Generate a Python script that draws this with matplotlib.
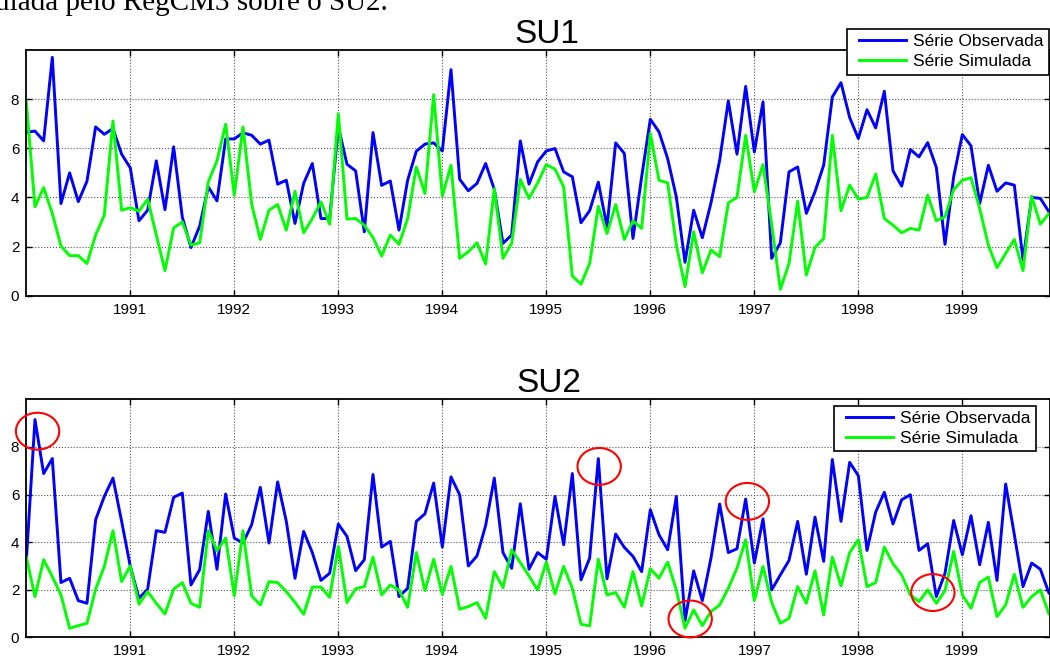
import matplotlib
matplotlib.use("Agg")
import matplotlib.pyplot as plt
from matplotlib.patches import Ellipse
from matplotlib.legend_handler import HandlerLine2D
import numpy as np

plt.rcParams['font.family'] = ['Liberation Sans', 'DejaVu Sans']

year_labels = ['1991', '1992', '1993', '1994', '1995', '1996', '1997', '1998', '1999']
series_labels = ['Série Observada', 'Série Simulada']

su1_obs = [6.65, 6.7, 6.3, 9.7, 3.75, 5.0, 3.83, 4.66, 6.87, 6.57, 6.8, 5.76,
           5.2, 3.05, 3.48, 5.49, 3.5, 6.06, 3.2, 1.96, 2.83, 4.43, 3.86, 6.38,
           6.38, 6.63, 6.53, 6.17, 6.33, 4.54, 4.7, 2.94, 4.57, 5.38, 3.14, 3.14,
           6.87, 5.35, 5.08, 2.6, 6.64, 4.49, 4.67, 2.67, 4.7, 5.88, 6.17, 6.22,
           5.89, 9.2, 4.74, 4.27, 4.57, 5.38, 4.32, 2.13, 2.47, 6.3, 4.54, 5.45,
           5.89, 5.99, 5.04, 4.84, 2.97, 3.46, 4.62, 2.8, 6.22, 5.79, 2.33, 4.84,
           7.18, 6.67, 5.58, 4.02, 1.36, 3.48, 2.36, 3.78, 5.51, 7.93, 5.76, 8.52,
           5.85, 7.89, 1.52, 2.15, 5.04, 5.24, 3.35, 4.23, 5.31, 8.09, 8.67, 7.25,
           6.4, 7.57, 6.83, 8.32, 5.08, 4.46, 5.95, 5.65, 6.23, 5.22, 2.09, 4.84,
           6.56, 6.1, 3.75, 5.31, 4.25, 4.59, 4.5, 1.45, 4.0, 3.96, 3.41, 3.3]

su1_sim = [7.89, 3.62, 4.4, 3.35, 2.02, 1.63, 1.63, 1.31, 2.47, 3.28, 7.11, 3.48,
           3.58, 3.44, 3.93, 2.47, 1.02, 2.76, 3.0, 2.06, 2.15, 4.63, 5.49, 6.98,
           4.09, 6.87, 3.73, 2.29, 3.48, 3.71, 2.67, 4.25, 2.56, 3.14, 3.82, 2.91,
           7.41, 3.12, 3.14, 2.87, 2.37, 1.61, 2.47, 2.09, 3.14, 5.24, 4.16, 8.18,
           4.05, 5.31, 1.52, 1.79, 2.15, 1.29, 4.36, 1.52, 2.13, 4.73, 3.96, 4.59,
           5.34, 5.15, 4.43, 0.8, 0.47, 1.31, 3.64, 2.53, 3.71, 2.29, 3.05, 2.74,
           6.6, 4.7, 4.59, 2.06, 0.37, 2.6, 0.93, 1.86, 1.59, 3.78, 4.0, 6.53,
           4.23, 5.34, 2.9, 0.26, 1.31, 3.85, 0.84, 1.96, 2.33, 6.53, 3.46, 4.5,
           3.93, 4.0, 4.95, 3.14, 2.87, 2.56, 2.74, 2.67, 4.09, 3.05, 3.21, 4.32,
           4.7, 4.8, 3.55, 2.06, 1.14, 1.72, 2.29, 1.02, 4.05, 2.91, 3.35, 3.5]

su2_obs = [3.2, 9.15, 6.88, 7.51, 2.3, 2.48, 1.54, 1.43, 4.94, 5.92, 6.69, 4.87,
           2.98, 1.64, 2.02, 4.48, 4.41, 5.88, 6.06, 2.2, 2.84, 5.29, 2.86, 6.02,
           4.17, 3.96, 4.73, 6.3, 3.96, 6.53, 4.87, 2.48, 4.45, 3.56, 2.39, 2.69,
           4.76, 4.24, 2.8, 3.26, 6.84, 3.79, 4.03, 1.71, 2.06, 4.87, 5.19, 6.48,
           3.79, 6.74, 5.99, 3.0, 3.42, 4.7, 6.69, 3.56, 2.9, 5.61, 2.86, 3.56,
           3.28, 5.92, 3.89, 6.88, 2.41, 3.33, 7.51, 2.46, 4.34, 3.78, 3.4, 2.76,
           5.36, 4.31, 3.68, 5.92, 0.69, 2.79, 1.54, 3.33, 5.6, 3.56, 3.72, 5.81,
           3.12, 4.98, 1.99, 2.62, 3.23, 4.87, 2.65, 5.05, 3.19, 7.47, 4.87, 7.35,
           6.79, 3.65, 5.26, 6.09, 4.76, 5.78, 5.99, 3.65, 3.93, 1.71, 2.69, 4.91,
           3.47, 5.11, 3.05, 4.83, 2.39, 6.44, 4.31, 2.13, 3.12, 2.86, 1.85, 1.8]

su2_sim = [3.37, 1.71, 3.26, 2.55, 1.78, 0.38, 0.49, 0.59, 2.02, 2.98, 4.48, 2.34,
           3.0, 1.39, 1.92, 1.43, 0.98, 2.02, 2.3, 1.43, 1.26, 4.48, 3.64, 4.17,
           1.75, 4.48, 1.74, 1.36, 2.34, 2.3, 1.92, 1.47, 0.97, 2.11, 2.11, 1.68,
           3.82, 1.46, 2.04, 2.13, 3.37, 1.78, 2.2, 1.99, 1.26, 3.56, 1.96, 3.28,
           1.81, 2.98, 1.18, 1.29, 1.46, 0.8, 2.76, 2.09, 3.68, 3.14, 2.58, 1.99,
           3.16, 1.82, 2.98, 2.06, 0.55, 0.48, 3.28, 1.78, 1.88, 1.26, 2.76, 1.32,
           2.88, 2.48, 3.16, 1.99, 0.38, 1.15, 0.49, 1.08, 1.36, 2.06, 2.91, 4.1,
           1.54, 2.98, 1.46, 0.59, 0.8, 2.13, 1.43, 2.79, 0.94, 3.37, 2.16, 3.56,
           4.1, 2.13, 2.3, 3.79, 3.09, 2.62, 1.78, 1.5, 1.99, 1.43, 1.96, 3.61,
           1.78, 1.22, 2.3, 2.53, 0.87, 1.36, 2.65, 1.26, 1.71, 1.99, 0.98, 1.0]

# highlighted points on SU2 (month index, value)
highlight_x = [1.3, 66.1, 76.6, 83.2, 104.6]
highlight_y = [8.66, 7.18, 0.77, 5.71, 1.88]

W, H = 1050, 658
fig = plt.figure(figsize=(W / 100, H / 100), dpi=100)

px_month = 8.667
left_px = 26.3
xmax = (W - left_px) / px_month


def make_axes(top_px, bottom_px):
    return fig.add_axes([left_px / W, 1 - bottom_px / H, (W - left_px) / W,
                         (bottom_px - top_px) / H])


class GapLine(HandlerLine2D):
    """Legend line that leaves a small gap before the line (MATLAB style)."""
    def get_xdata(self, legend, xdescent, ydescent, width, height, fontsize):
        x0 = -xdescent + 0.12 * width
        x1 = -xdescent + width
        return np.array([x0, x1]), np.array([x0, x1])


ax1 = make_axes(50, 295.7)
ax2 = make_axes(399.3, 637.3)

months = np.arange(len(su1_obs))
year_ticks = [12 * (k + 1) for k in range(len(year_labels))]

for ax, obs, sim in [(ax1, su1_obs, su1_sim), (ax2, su2_obs, su2_sim)]:
    ax.plot(months, obs, color='#0000ff', lw=2.1, label=series_labels[0])
    ax.plot(months, sim, color='#00ff00', lw=2.1, label=series_labels[1])
    ax.set_xlim(0, xmax)
    ax.set_ylim(0, 10)
    ax.set_xticks(year_ticks)
    ax.set_xticklabels(year_labels)
    ax.set_yticks([0, 2, 4, 6, 8])
    ax.grid(True, linestyle=':', color='#555555', lw=0.8)
    ax.tick_params(direction='in', length=4, width=1, labelsize=11,
                   top=True, right=True, pad=5)
    for s in ax.spines.values():
        s.set_linewidth(1.3)
        s.set_color('black')

leg_kw = dict(bbox_transform=fig.transFigure, loc='upper right', fontsize=12.5,
              frameon=True, fancybox=False, edgecolor='black', framealpha=1,
              handlelength=3.1, handletextpad=0.4, borderpad=0.3,
              labelspacing=0.28, borderaxespad=0,
              handler_map={matplotlib.lines.Line2D: GapLine()})

leg1 = ax1.legend(bbox_to_anchor=(1049 / W, 1 - 29 / H), **leg_kw)
leg1.get_frame().set_linewidth(1.2)
leg1.set_zorder(10)
leg2 = ax2.legend(bbox_to_anchor=(1035.7 / W, 1 - 405.7 / H), **leg_kw)
leg2.get_frame().set_linewidth(1.2)

for cx, cy in zip(highlight_x, highlight_y):
    e = Ellipse((cx, cy), width=5.0, height=1.55, fill=False, edgecolor='red',
                lw=1.5, clip_on=False, zorder=5)
    ax2.add_patch(e)

fig.text(547 / W, 1 - 43 / H, 'SU1', ha='center', va='baseline', fontsize=24)
fig.text(549 / W, 1 - 391.7 / H, 'SU2', ha='center', va='baseline', fontsize=24)

fig.text(388 / W, 1 - 10 / H, 'simulada pelo RegCM3 sobre o SU2.', ha='right',
         va='baseline', fontsize=21, family=['Liberation Serif', 'DejaVu Serif'])

fig.savefig('out.png', dpi=100)
